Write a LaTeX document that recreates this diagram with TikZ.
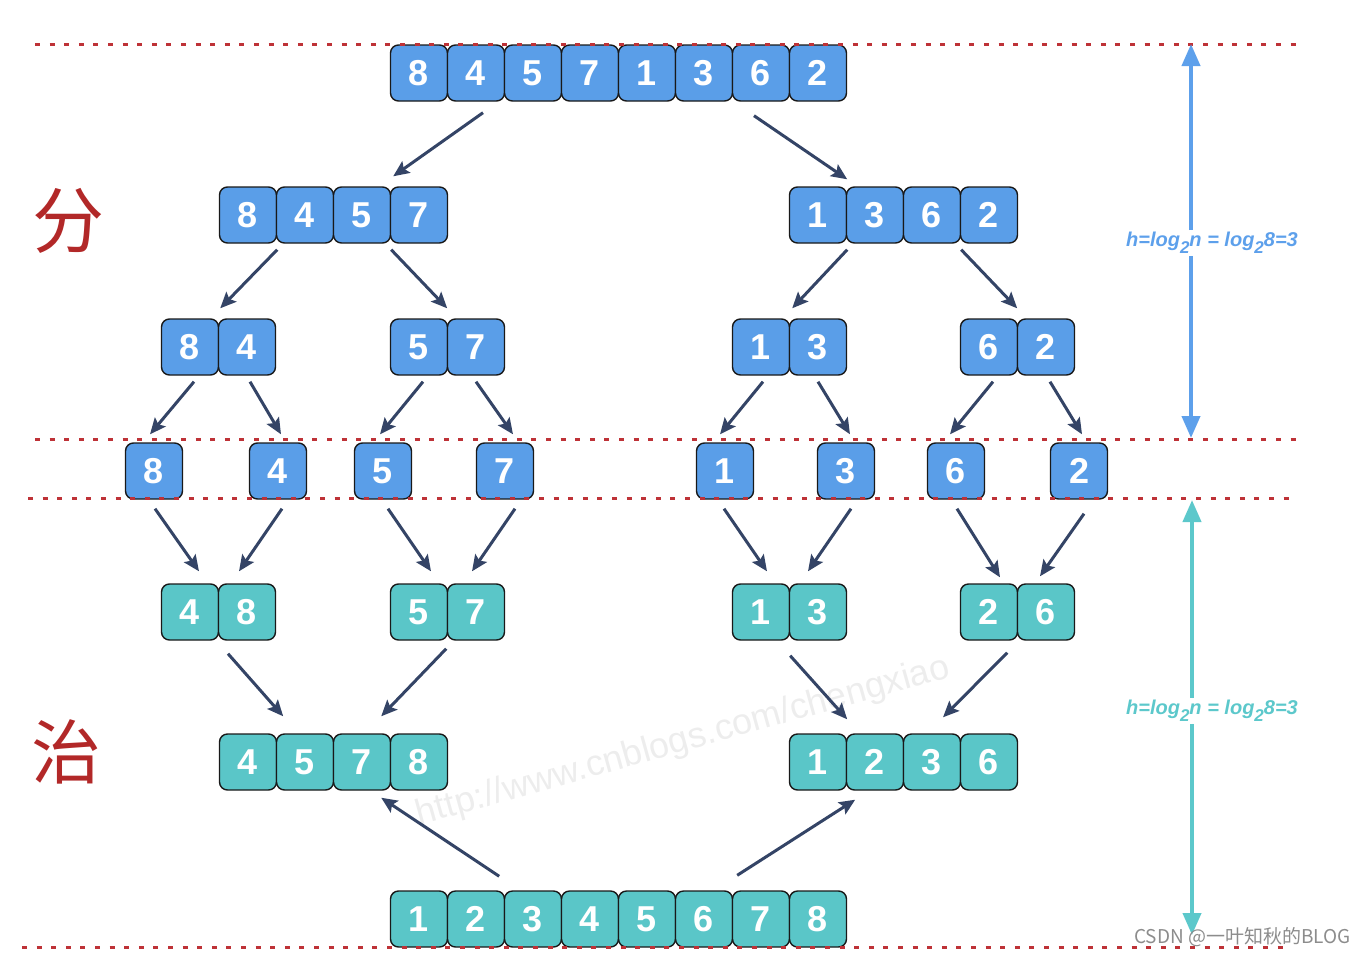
\documentclass[tikz,border=0pt]{standalone}
\usepackage{fontspec}
\setmainfont{Liberation Sans}
\newfontfamily\cjk{Noto Sans CJK SC}
\usetikzlibrary{arrows.meta}

\definecolor{cellblue}{RGB}{90,158,232}
\definecolor{cellteal}{RGB}{90,198,200}
\definecolor{arrowdark}{RGB}{52,68,102}
\definecolor{hblue}{RGB}{93,160,235}
\definecolor{hteal}{RGB}{92,200,203}
\definecolor{lvlred}{RGB}{190,50,55}
\definecolor{hanred}{RGB}{178,40,40}

\newcommand{\lsub}[1]{\raisebox{-0.35em}{\fontsize{17}{17}\selectfont #1}}

\tikzset{
  cell/.style={draw=black!90, line width=1.4pt, rounded corners=8pt,
    minimum width=57pt, minimum height=56pt, inner sep=0pt, text=white,
    font=\fontsize{36}{36}\selectfont\bfseries},
  bcell/.style={cell, fill=cellblue},
  gcell/.style={cell, fill=cellteal},
  arr/.style={draw=arrowdark, line width=3pt,
    -{Stealth[length=16pt,width=14pt,inset=3pt]}},
  harr/.style={line width=4pt, -{Triangle[length=22pt,width=18pt]}},
  hlab/.style={inner sep=2pt, font=\fontsize{20}{20}\selectfont\bfseries\itshape},
  level/.style={draw=lvlred, line width=3pt, dash pattern=on 5pt off 9.6pt}
}

\begin{document}
\begin{tikzpicture}[x=1pt,y=-1pt]
\useasboundingbox (0,0) rectangle (1366,956);

% watermark behind everything
\node[text=black!7, rotate=15.6, font=\fontsize{36}{36}\selectfont]
  (wm) at (683,742) {http://www.cnblogs.com/chengxiao};

% divide: 8 -> 4 -> 2 -> 1
\foreach \d [count=\i] in {8,4,5,7,1,3,6,2}
  \node[bcell] (t\i) at ({362+57*\i},73) {\d};

\foreach \d [count=\i] in {8,4,5,7}
  \node[bcell] (la\i) at ({191+57*\i},215) {\d};
\foreach \d [count=\i] in {1,3,6,2}
  \node[bcell] (ra\i) at ({761+57*\i},215) {\d};

\foreach \g/\x/\a/\b in {1/190/8/4, 2/419/5/7, 3/761/1/3, 4/989/6/2} {
  \node[bcell] (q\g-1) at (\x,347) {\a};
  \node[bcell] (q\g-2) at (\x+57,347) {\b};
}

\foreach \d/\x [count=\i] in {8/154,4/278,5/383,7/505,1/725,3/846,6/956,2/1079}
  \node[bcell] (s\i) at (\x,471) {\d};

% conquer: 2 -> 4 -> 8
\foreach \g/\x/\a/\b in {1/190/4/8, 2/419/5/7, 3/761/1/3, 4/989/2/6} {
  \node[gcell] (m\g-1) at (\x,612) {\a};
  \node[gcell] (m\g-2) at (\x+57,612) {\b};
}

\foreach \d [count=\i] in {4,5,7,8}
  \node[gcell] (ml\i) at ({191+57*\i},762) {\d};
\foreach \d [count=\i] in {1,2,3,6}
  \node[gcell] (mr\i) at ({761+57*\i},762) {\d};

\foreach \d [count=\i] in {1,2,3,4,5,6,7,8}
  \node[gcell] (f\i) at ({362+57*\i},919) {\d};

% split arrows
\draw[arr] ([shift={(7,11)}]t2.south) -- ([shift={(2,-10)}]la3.north east);
\draw[arr] ([shift={(-7,14)}]t7.south) -- ([shift={(0,-7)}]ra1.north east);

\draw[arr] ([shift={(0,6)}]la1.south east) -- ([shift={(1,-10)}]q1-1.north east);
\draw[arr] ([shift={(0,6)}]la3.south east) -- ([shift={(-1,-10)}]q2-1.north east);
\draw[arr] ([shift={(0,6)}]ra1.south east) -- ([shift={(2,-10)}]q3-1.north east);
\draw[arr] ([shift={(0,6)}]ra3.south east) -- ([shift={(-1,-10)}]q4-1.north east);

\draw[arr] ([shift={(4,6)}]q1-1.south) -- ([shift={(-4,-8)}]s1.north);
\draw[arr] ([shift={(3,6)}]q1-2.south) -- ([shift={(3,-8)}]s2.north);
\draw[arr] ([shift={(4,6)}]q2-1.south) -- ([shift={(-3,-8)}]s3.north);
\draw[arr] ([shift={(0,6)}]q2-2.south) -- ([shift={(8,-8)}]s4.north);
\draw[arr] ([shift={(2,6)}]q3-1.south) -- ([shift={(-5,-8)}]s5.north);
\draw[arr] ([shift={(0,6)}]q3-2.south) -- ([shift={(4,-8)}]s6.north);
\draw[arr] ([shift={(4,6)}]q4-1.south) -- ([shift={(-6,-8)}]s7.north);
\draw[arr] ([shift={(4,6)}]q4-2.south) -- ([shift={(3,-8)}]s8.north);

% merge arrows
\draw[arr] ([shift={(1,9)}]s1.south) -- ([shift={(9,-12)}]m1-1.north);
\draw[arr] ([shift={(4,9)}]s2.south) -- ([shift={(-8,-12)}]m1-2.north);
\draw[arr] ([shift={(5,9)}]s3.south) -- ([shift={(12,-12)}]m2-1.north);
\draw[arr] ([shift={(10,9)}]s4.south) -- ([shift={(-4,-12)}]m2-2.north);
\draw[arr] ([shift={(-1,9)}]s5.south) -- ([shift={(6,-12)}]m3-1.north);
\draw[arr] ([shift={(5,9)}]s6.south) -- ([shift={(-10,-12)}]m3-2.north);
\draw[arr] ([shift={(1,9)}]s7.south) -- ([shift={(11,-6)}]m4-1.north);
\draw[arr] ([shift={(5,14)}]s8.south) -- ([shift={(-6,-7)}]m4-2.north);

\draw[arr] ([shift={(-19,13)}]m1-2.south) -- ([shift={(6,-17)}]ml1.north east);
\draw[arr] ([shift={(-2,8)}]m2-1.south east) -- ([shift={(-10,-17)}]ml3.north east);
\draw[arr] ([shift={(0,15)}]m3-1.south east) -- ([shift={(0,-14)}]mr1.north east);
\draw[arr] ([shift={(-11,12)}]m4-1.south east) -- ([shift={(11,-16)}]mr3.north);

\draw[arr] ([shift={(-6,-14)}]f2.north east) -- ([shift={(-10,7)}]ml3.south east);
\draw[arr] ([shift={(4,-15)}]f6.north east) -- ([shift={(8,9)}]mr1.south east);

% level lines
\draw[level] (35,44) -- (1300,44);
\draw[level] (35,439) -- (1300,439);
\draw[level] (28,498) -- (1295,498);
\draw[level] (22,947) -- (1290,947);

% side labels
\node[text=hanred, font=\cjk\fontsize{72}{72}\selectfont] (fen) at (68,221) {分};
\node[text=hanred, font=\cjk\fontsize{70}{70}\selectfont] (zhi) at (66,752) {治};

% height arrows
\coordinate (htop) at (1191,44);
\coordinate (hmid) at (1191,438);
\node[hlab, text=hblue] (hdiv) at (1212,243)
  {h=log\lsub{2}n = log\lsub{2}8=3};
\draw[harr, draw=hblue, fill=hblue] (hdiv.north -| htop) -- (htop);
\draw[harr, draw=hblue, fill=hblue] (hdiv.south -| hmid) -- (hmid);

\coordinate (gtop) at (1192,500);
\coordinate (gbot) at (1192,935);
\node[hlab, text=hteal] (hcon) at (1212,711)
  {h=log\lsub{2}n = log\lsub{2}8=3};
\draw[harr, draw=hteal, fill=hteal] (hcon.north -| gtop) -- (gtop);
\draw[harr, draw=hteal, fill=hteal] (hcon.south -| gbot) -- (gbot);

\node[anchor=east, text=black!45, font=\cjk\fontsize{19}{19}\selectfont]
  (csdn) at (1354,937) {CSDN @一叶知秋的BLOG};

\end{tikzpicture}
\end{document}
